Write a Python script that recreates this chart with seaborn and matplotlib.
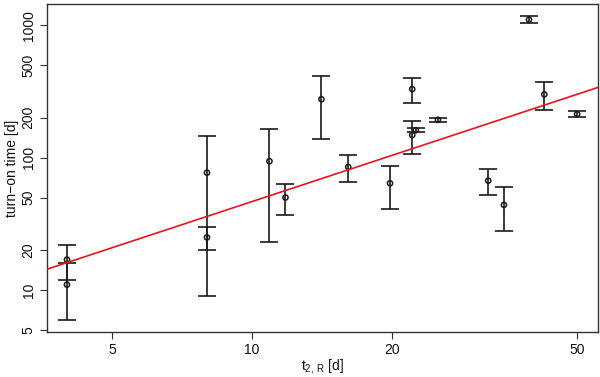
import numpy as np
import matplotlib
matplotlib.use('Agg')
import matplotlib.pyplot as plt
import seaborn as sns
import pandas as pd

# t2,R [d], turn-on time [d] and its error
t2r = [4.0, 4.0, 8.0, 8.0, 10.9, 11.8, 14.1, 16.1, 19.8, 22.1, 22.1, 22.5, 25.1, 32.2, 34.8, 39.4, 42.5, 50.0]
turn_on = [17, 11, 77, 25, 94, 50, 276, 85, 64, 329, 148, 161, 193, 67, 44, 1100, 300, 213]
turn_on_err = [5, 5, 68, 5, 71, 13, 137, 19, 23, 70, 41, 6, 7, 15, 16, 68, 70, 11]

# power-law fit: turn_on = fit_norm * t2r ** fit_slope
fit_norm = 3.24
fit_slope = 1.158

x_ticks = [5, 10, 20, 50]
y_ticks = [5, 10, 20, 50, 100, 200, 500, 1000]

df = pd.DataFrame({'t2r': t2r, 'turn_on': turn_on, 'err': turn_on_err})

sns.set_theme(style='white')
plt.rcParams['font.family'] = ['Liberation Sans', 'DejaVu Sans']

fig = plt.figure(figsize=(6, 3.77), dpi=100)
ax = fig.add_axes([0.078, 0.119, 0.919, 0.870])

ax.errorbar(df['t2r'], df['turn_on'], yerr=df['err'], fmt='none',
            ecolor='#1a1a1a', elinewidth=1.2, capsize=6.5, capthick=1.2, zorder=2)
sns.scatterplot(data=df, x='t2r', y='turn_on', ax=ax, marker='o', s=14,
                facecolor='none', edgecolor='#1a1a1a', linewidth=1.1, zorder=3)

ax.set_xscale('log')
ax.set_yscale('log')
ax.set_xlim(3.62, 55.5)
ax.set_ylim(4.82, 1440)

# fitted power law across the whole x range
xfit = np.array(ax.get_xlim())
ax.plot(xfit, fit_norm * xfit ** fit_slope, color='#e8141c', lw=1.2, zorder=4)

ax.xaxis.set_major_locator(matplotlib.ticker.FixedLocator(x_ticks))
ax.yaxis.set_major_locator(matplotlib.ticker.FixedLocator(y_ticks))
ax.xaxis.set_minor_locator(matplotlib.ticker.NullLocator())
ax.yaxis.set_minor_locator(matplotlib.ticker.NullLocator())
ax.set_xticklabels([str(v) for v in x_ticks])
ax.set_yticklabels([str(v) for v in y_ticks], rotation=90, va='center')
ax.tick_params(axis='both', which='major', direction='out', length=5, width=0.8,
               color='#333333', labelsize=10, labelcolor='#111111', bottom=True, left=True, pad=3)

for sp in ax.spines.values():
    sp.set_color('#333333')
    sp.set_linewidth(1.0)

ax.set_xlabel(r'$\mathregular{t_{2,\,R}}$ [d]', fontsize=10, color='#111111', labelpad=0)
ax.set_ylabel('turn\u2212on time [d]', fontsize=10, color='#111111', labelpad=2)

fig.savefig('out.png', dpi=100)
